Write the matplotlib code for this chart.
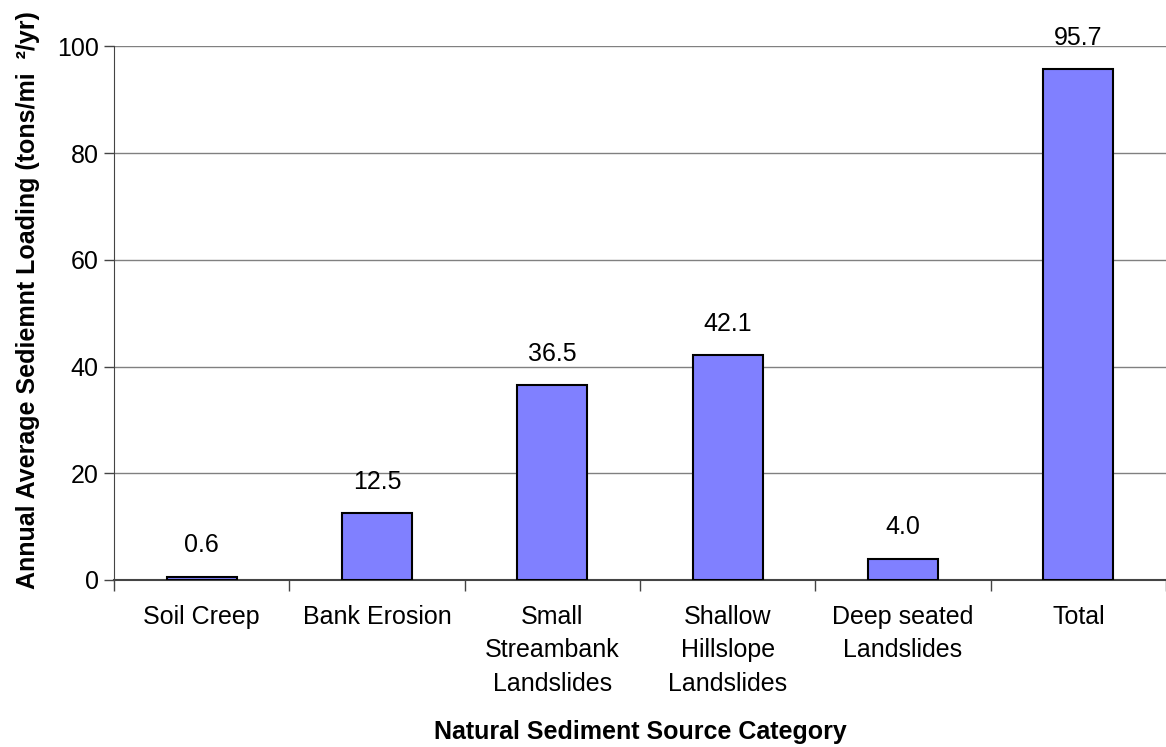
import matplotlib.pyplot as plt
import numpy as np

plt.rcParams['font.family'] = ['Liberation Sans', 'DejaVu Sans']

categories = ['Soil Creep', 'Bank Erosion', 'Small\nStreambank\nLandslides',
              'Shallow\nHillslope\nLandslides', 'Deep seated\nLandslides', 'Total']
loading = [0.6, 12.5, 36.5, 42.1, 4.0, 95.7]
yticks = [0, 20, 40, 60, 80, 100]

fig = plt.figure(figsize=(11.66, 7.47), dpi=100)
ax = fig.add_axes([0.0978, 0.2236, 0.9022, 0.7144])

x = np.arange(len(categories))
ax.bar(x, loading, width=0.4, color='#8080FF', edgecolor='black',
       linewidth=1.5, zorder=3)

# value labels above each bar
for xi, v in zip(x, loading):
    ax.annotate(f'{v:.1f}', (xi, v), xytext=(0, 14), textcoords='offset points',
                ha='center', va='bottom', fontsize=18, zorder=4)

ax.set_xlim(-0.5, len(categories) - 0.5)
ax.set_ylim(0, 100)
ax.set_yticks(yticks)
ax.tick_params(axis='y', labelsize=18, length=7, width=1, color='#444444', pad=4)
ax.yaxis.grid(True, color='#808080', linewidth=1.0, zorder=0)

ax.set_xticks(x)
ax.set_xticklabels(categories, fontsize=18, linespacing=1.5)
ax.tick_params(axis='x', length=0, pad=18)
ax.set_xticks(np.arange(len(categories) + 1) - 0.5, minor=True)
ax.tick_params(axis='x', which='minor', length=8, width=1, color='#444444')

for s in ['top', 'right']:
    ax.spines[s].set_visible(False)
ax.spines['left'].set_color('#444444')
ax.spines['bottom'].set_color('#444444')
ax.spines['bottom'].set_linewidth(1.5)

fig.text(0.5489, 0.011, 'Natural Sediment Source Category', ha='center',
         va='baseline', fontsize=18, fontweight='bold')
fig.text(0.024, 0.598, 'Annual Average Sediemnt Loading (tons/mi  \u00b2/yr)',
         rotation=90, ha='center', va='center', fontsize=18,
         fontweight='bold')

fig.savefig('out.png', dpi=100)
